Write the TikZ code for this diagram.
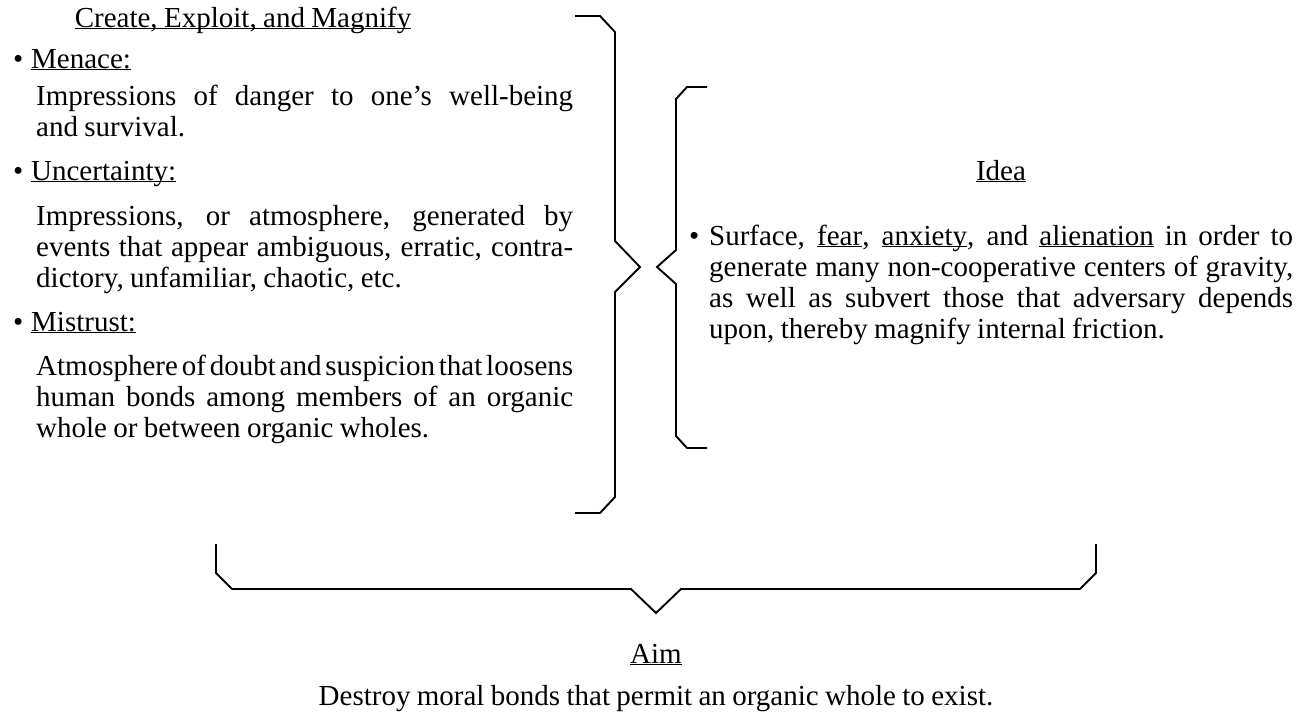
\documentclass[tikz,border=0pt]{standalone}
\usepackage{fontspec}
\setmainfont[WordSpace={0.88,1,1.4}]{Liberation Serif}
\newcommand{\ulword}[1]{\underline{\smash{#1}}}
\hyphenpenalty=10000

\begin{document}
\begin{tikzpicture}[x=1pt, y=-1pt, font=\fontsize{29}{31}\selectfont]
  \tikzstyle{label} = [inner sep=0pt, anchor=base]
  \tikzstyle{item} = [inner sep=0pt, anchor=base west]
  \tikzstyle{para} = [inner sep=0pt, anchor=base west, text width=537pt, align=justify]
  \tikzstyle{brace} = [line width=1.9pt, line join=miter]

  \useasboundingbox (0,0) rectangle (1307,718);

  % left column
  \node [label] (title) at (243,27) {\ulword{Create, Exploit, and Magnify}};
  \node [item] (menace) at (13,68) {\makebox[18pt][l]{\textbullet}\ulword{Menace:}};
  \node [para] (menacetext) at (36,105) {Impressions of danger to one's well-being\linebreak and survival.};
  \node [item] (uncert) at (13,180) {\makebox[18pt][l]{\textbullet}\ulword{Uncertainty:}};
  \node [para] (uncerttext) at (36,225) {Impressions, or atmosphere, generated by\linebreak events that appear ambiguous, erratic, contra-\linebreak dictory, unfamiliar, chaotic, etc.};
  \node [item] (mistrust) at (13,331) {\makebox[18pt][l]{\textbullet}\ulword{Mistrust:}};
  \node [para] (mistrusttext) at (36,375) {Atmosphere of doubt and suspicion that loosens\linebreak human bonds among members of an organic\linebreak whole or between organic wholes.};

  % right column
  \node [label] (idea) at (1001,180) {\ulword{Idea}};
  \node [para, text width=584pt] (ideatext) at (709,245) {\llap{\textbullet\hspace{10pt}}Surface, \ulword{fear}, \ulword{anxiety}, and \ulword{alienation} in order to\linebreak generate many non-cooperative centers of gravity,\linebreak as well as subvert those that adversary depends\linebreak upon, thereby magnify internal friction.};

  % bottom
  \node [label] (aim) at (656,663) {\ulword{Aim}};
  \node [label] (aimtext) at (656,705) {Destroy moral bonds that permit an organic whole to exist.};

  % braces
  \draw [brace] (575,16) -- (600,16) -- (615,32) -- (615,241) -- (640,267) -- (615,292) -- (615,497) -- (600,513) -- (575,513);
  \draw [brace] (707,87) -- (687,87) -- (676,99) -- (676,250) -- (657,267) -- (676,284) -- (676,436) -- (687,448) -- (707,448);
  \draw [brace] (216,544) -- (216,573) -- (232,589) -- (631,589) -- (656,613) -- (681,589) -- (1080,589) -- (1096,573) -- (1096,544);
\end{tikzpicture}
\end{document}
